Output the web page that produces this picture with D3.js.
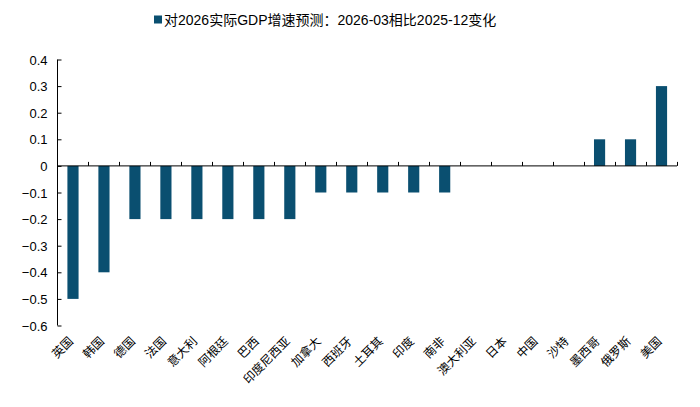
<!DOCTYPE html>
<html><head><meta charset="utf-8">
<script src="https://cdn.jsdelivr.net/npm/d3@7"></script>
<style>body{margin:0;background:#fff}svg{display:block}</style>
</head><body>
<script>
const categories = ["英国","韩国","德国","法国","意大利","阿根廷","巴西","印度尼西亚","加拿大","西班牙","土耳其","印度","南非","澳大利亚","日本","中国","沙特","墨西哥","俄罗斯","美国"];
const values = [-0.5,-0.4,-0.2,-0.2,-0.2,-0.2,-0.2,-0.2,-0.1,-0.1,-0.1,-0.1,-0.1,0,0,0,0,0.1,0.1,0.3];
const yTicks = [0.4,0.3,0.2,0.1,0,-0.1,-0.2,-0.3,-0.4,-0.5,-0.6];
const seriesName = "对2026实际GDP增速预测：2026-03相比2025-12变化";

const W=700,H=407;
const color="#0A4F70";
const font='"Liberation Sans", Arial, "Noto Sans CJK SC", sans-serif';
const svg=d3.select("body").append("svg").attr("width",W).attr("height",H);
const x=d3.scaleBand().domain(categories).range([57.5,677]).paddingInner(0.64).paddingOuter(0.32);
const xb=d3.scaleBand().domain(categories).range([57.5,677]);
const y=d3.scaleLinear().domain([-0.6,0.4]).range([325.5,59.5]);

svg.selectAll("rect.bar").data(values).enter().append("rect")
  .attr("x",(d,i)=>x(categories[i]))
  .attr("width",x.bandwidth())
  .attr("y",d=>y(Math.max(0,d)))
  .attr("height",d=>Math.abs(y(d)-y(0)))
  .attr("fill",color);

// y axis
const ya=svg.append("g").attr("transform","translate(57.5,0)")
  .call(d3.axisRight(y).tickValues(yTicks).tickSize(4).tickFormat(d=>d===0?"0":d3.format(".1f")(d)));
ya.select(".domain").attr("d","M0,"+y(0.4)+"V"+y(-0.6)).attr("stroke","#000");
ya.selectAll(".tick line").attr("stroke","#000");
ya.selectAll(".tick text").attr("x",-10).attr("text-anchor","end").attr("dy","0.35em")
  .style("font-family",font).style("font-size","13px").attr("fill","#000");

// x axis at zero
const xg=svg.append("g");
xg.append("line").attr("x1",57.5).attr("x2",677).attr("y1",y(0)).attr("y2",y(0)).attr("stroke","#000");
xg.selectAll("line.t").data(categories).enter().append("line")
  .attr("x1",d=>Math.round(xb(d)+xb.bandwidth())+0.5).attr("x2",d=>Math.round(xb(d)+xb.bandwidth())+0.5)
  .attr("y1",y(0)).attr("y2",y(0)-4).attr("stroke","#000");

// category labels
svg.selectAll("text.cat").data(categories).enter().append("text")
  .attr("transform",d=>`translate(${xb(d)+xb.bandwidth()/2+1},${342}) rotate(-45)`)
  .attr("text-anchor","end")
  .style("font-family",'"Noto Sans CJK SC", sans-serif').style("font-size","12px").attr("fill","#000")
  .text(d=>d);

// legend
const lg=svg.append("g");
lg.append("rect").attr("x",154).attr("y",15.5).attr("width",8).attr("height",8).attr("fill",color);
lg.append("text").attr("x",164).attr("y",24.5).style("font-family",font).style("font-size","14px").attr("fill","#000").text(seriesName);
</script>
</body></html>
